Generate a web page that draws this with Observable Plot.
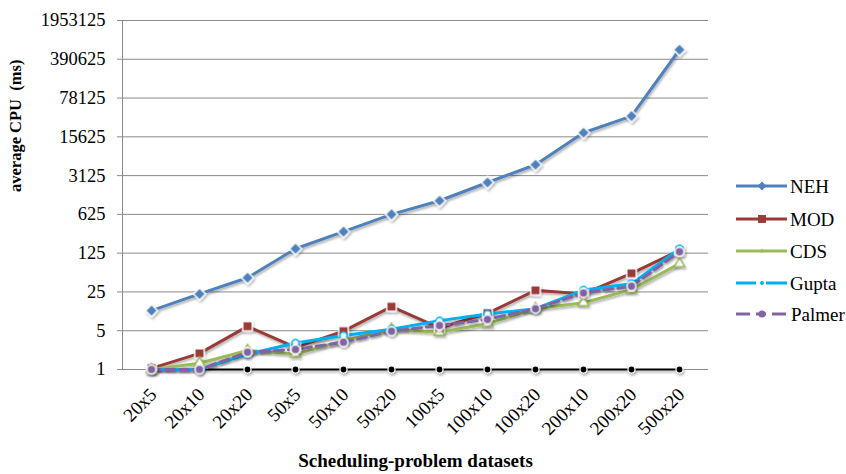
<!DOCTYPE html>
<html>
<head>
<meta charset="utf-8">
<script src="https://cdn.jsdelivr.net/npm/d3@7"></script>
<script src="https://cdn.jsdelivr.net/npm/@observablehq/plot@0.6"></script>
<style>
  html, body { margin: 0; padding: 0; background: #fff; }
  #chart { width: 846px; height: 474px; position: relative; }
  svg, svg text { font-family: "Liberation Serif", serif !important; }
</style>
</head>
<body>
<div id="chart"></div>
<script>
const categories = ["20x5","20x10","20x20","50x5","50x10","50x20","100x5","100x10","100x20","200x10","200x20","500x20"];
const NEH    = [11.5, 23, 45, 150, 305, 625, 1100, 2350, 4900, 18500, 37000, 580000];
const MOD    = [1.05, 1.95, 6.0, 2.5, 4.9, 13.6, 5.6, 10.3, 26.7, 23, 54, 140];
const CDS    = [1, 1.3, 2.2, 1.9, 3.3, 5.3, 4.7, 6.7, 12.5, 16, 27.5, 81];
const Gupta  = [1, 1, 1.9, 3.0, 4.1, 5.3, 7.6, 10, 12.5, 27, 35, 150];
const Palmer = [1, 1, 2.05, 2.3, 3.1, 4.9, 6.2, 8, 12.5, 24, 31.6, 133];
const baseline = [1,1,1,1,1,1,1,1,1,1,1,1];
const yTicks = [1, 5, 25, 125, 625, 3125, 15625, 78125, 390625, 1953125];
const seriesNames = ["NEH","MOD","CDS","Gupta","Palmer"];
const seriesValues = [NEH, MOD, CDS, Gupta, Palmer];

const styles = {
  NEH:    {color: "#4F81BD", symbol: "diamond2", r: 5.5, dash: null},
  MOD:    {color: "#9B3B37", symbol: "square2", r: 6, dash: null},
  CDS:    {color: "#9BBB59", symbol: "triangle2", r: 5, dash: null, mfill: "#fff"},
  Gupta:  {color: "#00B0F0", symbol: "circle", r: 3.5, dash: null, mfill: "#fff"},
  Palmer: {color: "#8064A2", symbol: "circle", r: 4.5, dash: "9,5"}
};

const rows = [];
seriesNames.forEach((s, i) => categories.forEach((c, j) => rows.push({series: s, cat: c, value: seriesValues[i][j]})));
const baseRows = categories.map((c, j) => ({cat: c, value: baseline[j]}));

const W = 846, H = 474, ML = 122, MR = 138, MT = 20, MB = 105;
const FONT = '"Liberation Serif", serif';

const marks = [
  Plot.gridY(yTicks, {stroke: "#8a8a8a", strokeOpacity: 1, strokeWidth: 1}),
  Plot.axisY(yTicks, {tickSize: 5, stroke: "#8a8a8a", tickPadding: 12, fontSize: 18.5, fill: "#000",
    tickFormat: d => String(d), label: null}),
  Plot.frame({anchor: "left", stroke: "#8a8a8a"}),
  Plot.text(categories, {x: d => d, y: () => 1, text: d => d, rotate: -45, textAnchor: "end",
    dx: 2, dy: 22, fontSize: 19, fill: "#000"}),
  Plot.text(["average CPU  (ms)"], {frameAnchor: "left", rotate: -90, dx: -107, dy: -3, fontSize: 16.5, fontWeight: "bold", fill: "#000"}),
  Plot.text(["Scheduling-problem datasets"], {frameAnchor: "bottom", dy: 97, fontSize: 19, fontWeight: "bold", fill: "#000"}),
  Plot.line(baseRows, {x: "cat", y: "value", stroke: "#000", strokeWidth: 2, className: "shadowed"}),
  Plot.dot(baseRows, {x: "cat", y: "value", fill: "#000", stroke: "#fff", strokeWidth: 1.2, r: 3.5, className: "shadowed"}),
];
for (const s of seriesNames) {
  const st = styles[s];
  const data = rows.filter(d => d.series === s);
  marks.push(Plot.line(data, {x: "cat", y: "value", stroke: st.color, strokeWidth: 3,
    strokeDasharray: st.dash, strokeLinejoin: "round", className: "shadowed"}));
}
for (const s of seriesNames) {
  const st = styles[s];
  const data = rows.filter(d => d.series === s);
  marks.push(Plot.dot(data, {x: "cat", y: "value", symbol: () => st.symbol, r: st.r,
    fill: st.mfill || st.color, stroke: st.mfill ? st.color : "#fff", strokeWidth: 1.5, className: "shadowed"}));
}

const chart = Plot.plot({
  width: W, height: H,
  marginLeft: ML, marginRight: MR, marginTop: MT, marginBottom: MB,
  style: {fontFamily: FONT, background: "#fff"},
  x: {type: "point", domain: categories, padding: 0.5, axis: null},
  y: {type: "log", base: 5, domain: [1, 1953125], axis: null},
  symbol: {type: "identity"},
  marks
});
document.getElementById("chart").appendChild(chart);

const svg = d3.select(chart);
// soft drop shadow like the original
const defs = svg.insert("defs", ":first-child");
defs.append("filter").attr("id", "shadow").attr("filterUnits", "userSpaceOnUse")
  .attr("x", 0).attr("y", 0).attr("width", W).attr("height", H)
  .append("feDropShadow").attr("dx", 1).attr("dy", 2).attr("stdDeviation", 1.2)
  .attr("flood-color", "#000").attr("flood-opacity", 0.3);
svg.selectAll("g.shadowed").attr("filter", "url(#shadow)");

// Legend
const lg = svg.append("g").attr("class", "legend");
const legY = [186, 219, 251, 283, 314];
seriesNames.forEach((s, i) => {
  const st = styles[s];
  const g = lg.append("g").attr("transform", `translate(736,${legY[i]})`);
  if (s === "Palmer") {
    [[0, 14], [20, 30], [36, 50]].forEach(([a, b]) => g.append("line").attr("x1", a).attr("x2", b).attr("stroke", st.color).attr("stroke-width", 3));
  } else if (s === "Gupta") {
    [[0, 20], [30, 51]].forEach(([a, b]) => g.append("line").attr("x1", a).attr("x2", b).attr("stroke", st.color).attr("stroke-width", 3));
  } else {
    g.append("line").attr("x1", 0).attr("x2", 51).attr("stroke", st.color).attr("stroke-width", 3);
  }
  const sym = {diamond2: d3.symbolDiamond2, square2: d3.symbolSquare2, triangle2: d3.symbolTriangle2, circle: d3.symbolCircle}[st.symbol];
  const sizes = {NEH: 50, MOD: 80, CDS: 14, Gupta: 12, Palmer: 40};
  g.append("path").attr("d", d3.symbol(sym, sizes[s])()).attr("transform", "translate(26,0)")
    .attr("fill", st.color);
  g.append("text").attr("x", s === "Palmer" ? 55 : 54).attr("y", 0).attr("dy", "0.35em")
    .attr("text-anchor", "start")
    .attr("font-size", 19).attr("fill", "#000").text(s);
});
</script>
</body>
</html>
